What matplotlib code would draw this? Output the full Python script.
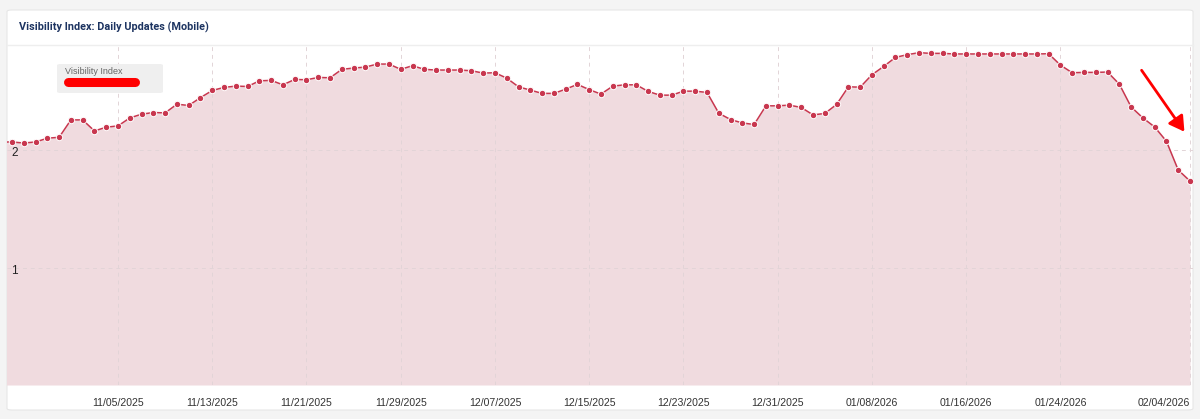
import matplotlib
matplotlib.use("Agg")
import matplotlib.pyplot as plt
import matplotlib.dates as mdates
from matplotlib.patches import FancyBboxPatch, FancyArrowPatch
import datetime as dt

# dati (un punto al giorno, dal 26/10/2025 al 04/02/2026)
start = dt.date(2025, 10, 26)
valori = [
    2.07, 2.071, 2.062, 2.071, 2.103, 2.111, 2.259, 2.259, 2.165, 2.197,
    2.208, 2.276, 2.308, 2.322, 2.319, 2.393, 2.382, 2.449, 2.510, 2.536,
    2.547, 2.544, 2.592, 2.596, 2.558, 2.604, 2.601, 2.621, 2.618, 2.690,
    2.701, 2.709, 2.735, 2.735, 2.690, 2.721, 2.690, 2.684, 2.684, 2.684,
    2.678, 2.658, 2.661, 2.615, 2.541, 2.513, 2.485, 2.485, 2.521, 2.562,
    2.517, 2.479, 2.547, 2.558, 2.558, 2.502, 2.470, 2.470, 2.504, 2.504,
    2.493, 2.316, 2.262, 2.233, 2.220, 2.379, 2.379, 2.385, 2.365, 2.302,
    2.314, 2.391, 2.541, 2.538, 2.644, 2.715, 2.792, 2.815, 2.832, 2.826,
    2.826, 2.821, 2.821, 2.821, 2.821, 2.821, 2.821, 2.821, 2.821, 2.823,
    2.726, 2.661, 2.664, 2.664, 2.667, 2.564, 2.370, 2.276, 2.199, 2.077,
    1.832, 1.738,
]
date = [start + dt.timedelta(days=i) for i in range(len(valori))]
tick_date = [dt.date(2025, 11, 5), dt.date(2025, 11, 13), dt.date(2025, 11, 21),
             dt.date(2025, 11, 29), dt.date(2025, 12, 7), dt.date(2025, 12, 15),
             dt.date(2025, 12, 23), dt.date(2025, 12, 31), dt.date(2026, 1, 8),
             dt.date(2026, 1, 16), dt.date(2026, 1, 24), dt.date(2026, 2, 4)]
y_ticks = [1, 2]

W, H = 1200, 419
fig = plt.figure(figsize=(W / 100, H / 100), dpi=100)
fig.patch.set_facecolor("#f4f4f4")

def fx(px):
    return px / W

def fy(py):
    return 1 - py / H

# card bianca (sotto agli assi)
card = FancyBboxPatch((fx(7), fy(410)), fx(1186), 400 / H,
                      boxstyle="round,pad=0,rounding_size=0.004",
                      transform=fig.transFigure, facecolor="white",
                      edgecolor="#e6e6e6", linewidth=0.8, zorder=-5)
fig.patches.append(card)
fig.add_artist(plt.Line2D([fx(7), fx(1193)], [fy(45), fy(45)], transform=fig.transFigure,
                          color="#eeeeee", linewidth=1, zorder=-4))
fig.text(fx(19), fy(27), "Visibility Index: Daily Updates (Mobile)", fontsize=7.8,
         fontweight="bold", color="#1d3461", family="Roboto", va="center", ha="left")

ax = fig.add_axes([fx(7), fy(385), fx(1186), (385 - 45) / H])
ax.set_facecolor("none")
for s in ax.spines.values():
    s.set_visible(False)

px_day = 11.78
x0 = mdates.date2num(dt.date(2025, 10, 27)) - 5 / px_day
x1 = x0 + 1186 / px_day
ax.set_xlim(x0, x1)
ax.set_ylim(0, 2 + 105 / 117)

xd = mdates.date2num(date)
ax.fill_between(xd, valori, 0, color="#f0dbdf", linewidth=0, zorder=1)
ax.plot(xd, valori, color="#c8374f", linewidth=1.1, marker="o", markersize=4.6,
        markeredgecolor="white", markeredgewidth=0.7, zorder=3)

ax.set_xticks(mdates.date2num(tick_date))
ax.xaxis.set_major_formatter(mdates.DateFormatter("%m/%d/%Y"))
ax.tick_params(axis="x", length=0, pad=9, labelsize=7.6, labelcolor="#333333")
for t in ax.get_xticklabels():
    t.set_family("Liberation Sans")
ax.get_xticklabels()[-1].set_ha("right")
ax.set_yticks(y_ticks)
ax.tick_params(axis="y", length=0, labelleft=False)
ax.grid(True, color="#e2d4d7", linestyle=(0, (4, 4)), linewidth=0.7, zorder=2)
ax.set_axisbelow(False)
for v in y_ticks:
    ax.text(4 / 1186, v - 3 / 117, str(v), transform=ax.get_yaxis_transform(),
            fontsize=8.5, color="#222222", va="center", ha="left", family="Liberation Sans",
            zorder=4)

# legenda
leg = FancyBboxPatch((fx(57), fy(93)), fx(106), 29 / H,
                     boxstyle="round,pad=0,rounding_size=0.003",
                     transform=fig.transFigure, facecolor="#efefef", edgecolor="none",
                     zorder=5)
fig.patches.append(leg)
fig.text(fx(65), fy(72), "Visibility Index", fontsize=6.5, color="#666666",
         family="Liberation Sans", va="center", ha="left", zorder=6)
fig.add_artist(plt.Line2D([fx(68), fx(135)], [fy(82), fy(82)], transform=fig.transFigure,
                          color="#ff0000", linewidth=6.5, solid_capstyle="round", zorder=7))

# freccia rossa
freccia = FancyArrowPatch((fx(1140), fy(68)), (fx(1186), fy(134)), transform=fig.transFigure,
                          arrowstyle="-|>,head_length=6,head_width=3.5", color="#ff0000",
                          linewidth=2, mutation_scale=1.5, zorder=8)
fig.patches.append(freccia)

fig.savefig("out.png", dpi=100, facecolor=fig.get_facecolor())
